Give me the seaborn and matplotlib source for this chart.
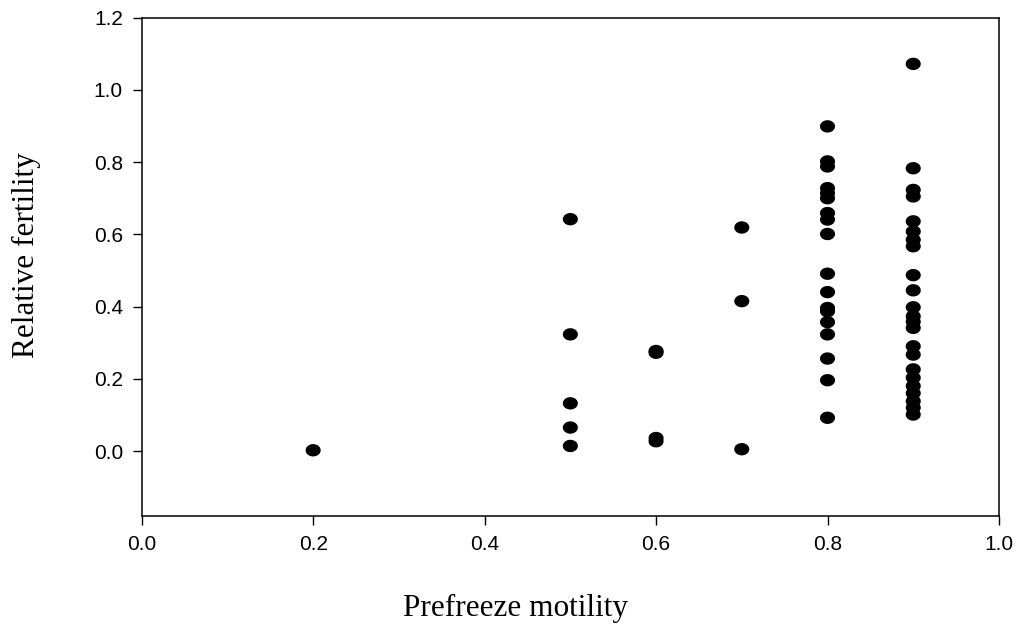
import matplotlib

matplotlib.use("Agg")
import matplotlib.pyplot as plt
import numpy as np
import pandas as pd
import seaborn as sns

# Prefreeze motility groups and the relative fertility
motility_02 = [0.002]
motility_05 = [0.642, 0.323, 0.132, 0.065, 0.014]
motility_06 = [0.277, 0.272, 0.036, 0.027]
motility_07 = [0.619, 0.415, 0.005]
motility_08 = [0.899, 0.802, 0.788, 0.728, 0.714, 0.700, 0.659, 0.641, 0.601,
               0.491, 0.440, 0.396, 0.387, 0.357, 0.323, 0.256, 0.196, 0.092]
motility_09 = [1.072, 0.783, 0.723, 0.705, 0.636, 0.608, 0.585, 0.567, 0.487,
               0.445, 0.398, 0.373, 0.358, 0.341, 0.290, 0.267, 0.226, 0.203,
               0.180, 0.160, 0.138, 0.120, 0.101]

groups = {0.2: motility_02, 0.5: motility_05, 0.6: motility_06,
          0.7: motility_07, 0.8: motility_08, 0.9: motility_09}

df = pd.DataFrame(
    [(m, f) for m, vals in groups.items() for f in vals],
    columns=["motility", "fertility"],
)

sns.set_theme(style="ticks")
plt.rcParams["font.family"] = ["Liberation Sans", "DejaVu Sans"]
plt.rcParams["text.color"] = "black"

# slightly flattened ellipse like the original symbols
t = np.linspace(0, 2 * np.pi, 40)
ellipse = list(zip(np.cos(t), 0.82 * np.sin(t)))

fig = plt.figure(figsize=(10.18, 6.25), dpi=100)
ax = fig.add_axes([0.1392, 0.1744, 0.8421, 0.7973])
sns.scatterplot(data=df, x="motility", y="fertility", marker=ellipse,
                s=118, color="black", edgecolor="none", linewidth=0, ax=ax)

ax.set_xlim(0.0, 1.0)
ax.set_ylim(-0.18, 1.2)
ax.set_xticks(np.arange(0, 1.01, 0.2))
ax.set_yticks(np.arange(0, 1.21, 0.2))
ax.set_xticklabels([f"{v:.1f}" for v in np.arange(0, 1.01, 0.2)])
ax.set_yticklabels([f"{v:.1f}" for v in np.arange(0, 1.21, 0.2)])
ax.tick_params(axis="both", direction="out", length=6.5, width=1,
               labelsize=15, color="black", labelcolor="black", pad=7)
for side in ["top", "right", "bottom", "left"]:
    ax.spines[side].set_visible(True)
    ax.spines[side].set_color("black")
    ax.spines[side].set_linewidth(1.1)

serif = ["Liberation Serif", "DejaVu Serif"]
ax.set_xlabel("Prefreeze motility", family=serif, fontsize=22.5, color="black")
ax.set_ylabel("Relative fertility", family=serif, fontsize=22.5, color="black")
ax.xaxis.label.set_va("center")
ax.yaxis.label.set_va("center")
ax.xaxis.set_label_coords(0.4366, -0.185)
ax.yaxis.set_label_coords(-0.134, 0.524)

fig.savefig("out.png", dpi=100)
